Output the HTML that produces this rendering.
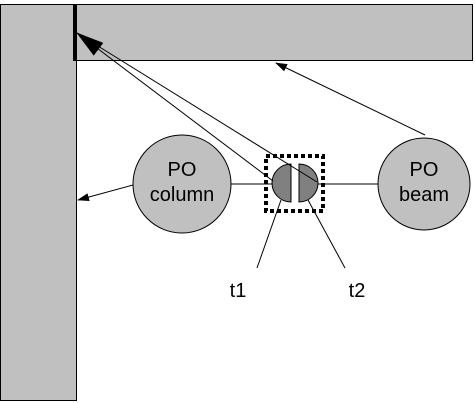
<!DOCTYPE html>
<html><head><style>body{margin:0;background:#fff}svg{display:block}</style></head><body>
<svg width="475" height="403" xmlns="http://www.w3.org/2000/svg" font-family="Liberation Sans, sans-serif">
<defs><marker id="a" markerWidth="12" markerHeight="8" refX="11" refY="4" orient="auto" markerUnits="userSpaceOnUse"><path d="M0,0L12,4L0,8z" fill="#000"/></marker>
<marker id="b" markerWidth="28" markerHeight="16" refX="27" refY="8" orient="auto" markerUnits="userSpaceOnUse"><path d="M0,0L28,8L0,16z" fill="#000"/></marker></defs>
<rect x="0.5" y="4.5" width="76" height="396" fill="#c0c0c0" stroke="#000"/>
<rect x="76.5" y="4.5" width="396" height="56" fill="#c0c0c0" stroke="#000"/>
<rect x="73" y="4" width="4" height="57" fill="#000"/>
<circle cx="182" cy="184" r="49" fill="#c0c0c0" stroke="#000"/>
<circle cx="424" cy="184" r="46" fill="#c0c0c0" stroke="#000"/>
<text x="182" y="176" font-size="20" text-anchor="middle">PO</text>
<text x="182" y="201" font-size="20" text-anchor="middle">column</text>
<text x="424" y="176" font-size="20" text-anchor="middle">PO</text>
<text x="424" y="201" font-size="20" text-anchor="middle">beam</text>
<line x1="231" y1="184" x2="273" y2="184" stroke="#000"/>
<line x1="318" y1="184" x2="378" y2="184" stroke="#000"/>
<rect x="266" y="156" width="57" height="55" fill="none" stroke="#000" stroke-width="4" stroke-dasharray="4,3"/>
<path d="M291,164 A19,19 0 0 0 291,202 Z" fill="#808080" stroke="#000"/>
<path d="M299,164 A19,19 0 0 1 299,202 Z" fill="#808080" stroke="#000"/>
<line x1="273" y1="181" x2="77" y2="33" stroke="#000" marker-end="url(#b)"/>
<line x1="317" y1="182" x2="77" y2="33" stroke="#000"/>
<line x1="425" y1="135" x2="276" y2="63" stroke="#000" marker-end="url(#a)"/>
<line x1="133" y1="185" x2="78" y2="200" stroke="#000" marker-end="url(#a)"/>
<line x1="257" y1="268" x2="281" y2="200" stroke="#000"/>
<line x1="345" y1="268" x2="308" y2="200" stroke="#000"/>
<text x="238" y="297" font-size="20" text-anchor="middle">t1</text>
<text x="357" y="297" font-size="20" text-anchor="middle">t2</text>
</svg></body></html>
